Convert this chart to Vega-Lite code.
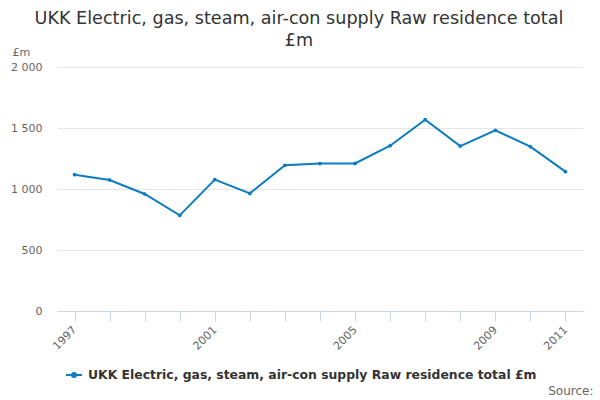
{
  "$schema": "https://vega.github.io/schema/vega-lite/v6.json",
  "width": 526,
  "height": 244,
  "autosize": {"type": "none"},
  "padding": {"left": 57, "top": 67, "right": 17, "bottom": 89},
  "config": {
    "font": "DejaVu Sans",
    "view": {"stroke": null}
  },
  "title": {
    "text": ["UKK Electric, gas, steam, air-con supply Raw residence total", "£m"],
    "anchor": "middle",
    "frame": "group",
    "dx": -21,
    "offset": -4,
    "fontSize": 17.6,
    "fontWeight": "normal",
    "lineHeight": 22,
    "color": "#333333"
  },
  "data": {
    "values": [
      {"year": "1997", "value": 1117, "series": "UKK Electric, gas, steam, air-con supply Raw residence total £m"},
      {"year": "1998", "value": 1074, "series": "UKK Electric, gas, steam, air-con supply Raw residence total £m"},
      {"year": "1999", "value": 959, "series": "UKK Electric, gas, steam, air-con supply Raw residence total £m"},
      {"year": "2000", "value": 784, "series": "UKK Electric, gas, steam, air-con supply Raw residence total £m"},
      {"year": "2001", "value": 1077, "series": "UKK Electric, gas, steam, air-con supply Raw residence total £m"},
      {"year": "2002", "value": 964, "series": "UKK Electric, gas, steam, air-con supply Raw residence total £m"},
      {"year": "2003", "value": 1194, "series": "UKK Electric, gas, steam, air-con supply Raw residence total £m"},
      {"year": "2004", "value": 1208, "series": "UKK Electric, gas, steam, air-con supply Raw residence total £m"},
      {"year": "2005", "value": 1210, "series": "UKK Electric, gas, steam, air-con supply Raw residence total £m"},
      {"year": "2006", "value": 1355, "series": "UKK Electric, gas, steam, air-con supply Raw residence total £m"},
      {"year": "2007", "value": 1568, "series": "UKK Electric, gas, steam, air-con supply Raw residence total £m"},
      {"year": "2008", "value": 1352, "series": "UKK Electric, gas, steam, air-con supply Raw residence total £m"},
      {"year": "2009", "value": 1481, "series": "UKK Electric, gas, steam, air-con supply Raw residence total £m"},
      {"year": "2010", "value": 1347, "series": "UKK Electric, gas, steam, air-con supply Raw residence total £m"},
      {"year": "2011", "value": 1142, "series": "UKK Electric, gas, steam, air-con supply Raw residence total £m"}
    ]
  },
  "mark": {
    "type": "line",
    "strokeWidth": 2,
    "point": {"filled": true, "size": 14}
  },
  "encoding": {
    "x": {
      "field": "year",
      "type": "ordinal",
      "scale": {"padding": 0.5},
      "axis": {
        "title": "Source:",
        "titleX": 536,
        "titleY": 86,
        "titleAlign": "right",
        "titleBaseline": "bottom",
        "titleFontSize": 12,
        "titleFontWeight": "normal",
        "titleColor": "#666666",
        "labelExpr": "indexof(['1997','2001','2005','2009','2011'], datum.label) >= 0 ? datum.label : ''",
        "labelAngle": -45,
        "labelAlign": "right",
        "labelBaseline": "middle",
        "labelOverlap": false,
        "labelFontSize": 11,
        "labelColor": "#666666",
        "labelPadding": 7,
        "domainColor": "#ccd6eb",
        "tickColor": "#ccd6eb",
        "tickSize": 10,
        "grid": false
      }
    },
    "y": {
      "field": "value",
      "type": "quantitative",
      "scale": {"domain": [0, 2000]},
      "axis": {
        "title": "£m",
        "titleAngle": 0,
        "titleX": -45,
        "titleY": -10,
        "titleAlign": "left",
        "titleBaseline": "bottom",
        "titleFontSize": 11,
        "titleFontWeight": "normal",
        "titleColor": "#666666",
        "values": [0, 500, 1000, 1500, 2000],
        "labelExpr": "replace(format(datum.value, ','), ',', ' ')",
        "labelFontSize": 11,
        "labelColor": "#666666",
        "labelPadding": 15,
        "ticks": false,
        "domain": false,
        "gridColor": "#e6e6e6"
      }
    },
    "color": {
      "field": "series",
      "type": "nominal",
      "scale": {"range": ["#0a7cc1"]},
      "legend": {
        "title": null,
        "orient": "none",
        "legendX": 8,
        "legendY": 299,
        "symbolType": "M-1,0H1M0.25,0A0.25,0.25,0,1,1,-0.25,0A0.25,0.25,0,1,1,0.25,0Z",
        "symbolSize": 256,
        "symbolStrokeWidth": 2,
        "symbolFillColor": "#0a7cc1",
        "labelOffset": 5,
        "labelFontSize": 12.4,
        "labelFontWeight": "bold",
        "labelColor": "#333333",
        "labelLimit": 600
      }
    }
  }
}
